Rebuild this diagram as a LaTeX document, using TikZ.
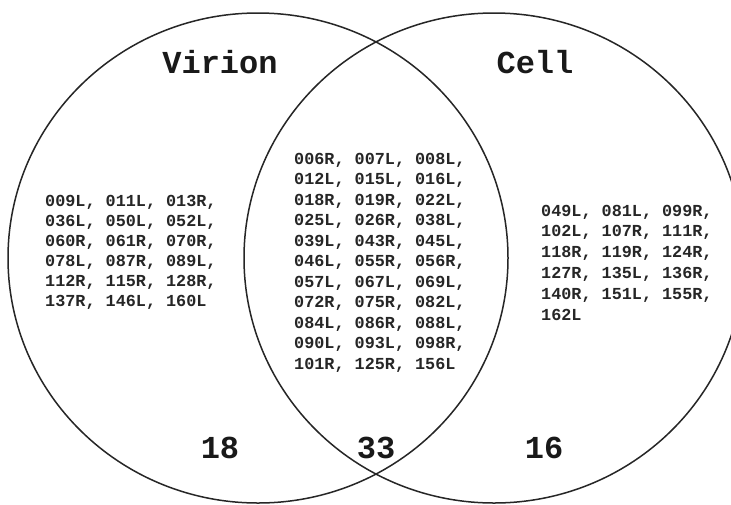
\documentclass[tikz,border=0pt]{standalone}
\usepackage{fontspec}
\setmonofont{Liberation Mono}
\begin{document}
\begin{tikzpicture}[x=1pt,y=-1pt,
  ring/.style={draw=black!85, line width=1.5pt},
  title/.style={font=\ttfamily\bfseries\fontsize{32}{36}\selectfont, anchor=base, inner sep=0pt, text=black!90},
  count/.style={font=\ttfamily\bfseries\fontsize{32}{36}\selectfont, anchor=base, inner sep=0pt, text=black!90},
  listtxt/.style={font=\ttfamily\bfseries\fontsize{16.8}{20}\selectfont, anchor=base west, inner sep=0pt, text=black!85}]
\useasboundingbox (0,0) rectangle (731,504);
\clip (0,0) rectangle (731,504);
\fill[white] (0,0) rectangle (731,504);
\draw[ring] (258,258) ellipse [x radius=250, y radius=245];
\draw[ring] (494,258) ellipse [x radius=250, y radius=245];
\node[title] (virion) at (220,73.3) {Virion};
\node[title] (cell) at (535,73.3) {Cell};
\node[count] (n18) at (220,458) {18};
\node[count] (n33) at (376,458) {33};
\node[count] (n16) at (544,458) {16};
\foreach \t [count=\i] in {{009L, 011L, 013R,},{036L, 050L, 052L,},{060R, 061R, 070R,},{078L, 087R, 089L,},{112R, 115R, 128R,},{137R, 146L, 160L}}
  \node[listtxt] (L\i) at (45,{206+20*(\i-1)}) {\t};
\foreach \t [count=\i] in {{006R, 007L, 008L,},{012L, 015L, 016L,},{018R, 019R, 022L,},{025L, 026R, 038L,},{039L, 043R, 045L,},{046L, 055R, 056R,},{057L, 067L, 069L,},{072R, 075R, 082L,},{084L, 086R, 088L,},{090L, 093L, 098R,},{101R, 125R, 156L}}
  \node[listtxt] (M\i) at (294,{164.3+20.5*(\i-1)}) {\t};
\foreach \t [count=\i] in {{049L, 081L, 099R,},{102L, 107R, 111R,},{118R, 119R, 124R,},{127R, 135L, 136R,},{140R, 151L, 155R,},{162L}}
  \node[listtxt] (R\i) at (541,{216+20.8*(\i-1)}) {\t};
\end{tikzpicture}
\end{document}
